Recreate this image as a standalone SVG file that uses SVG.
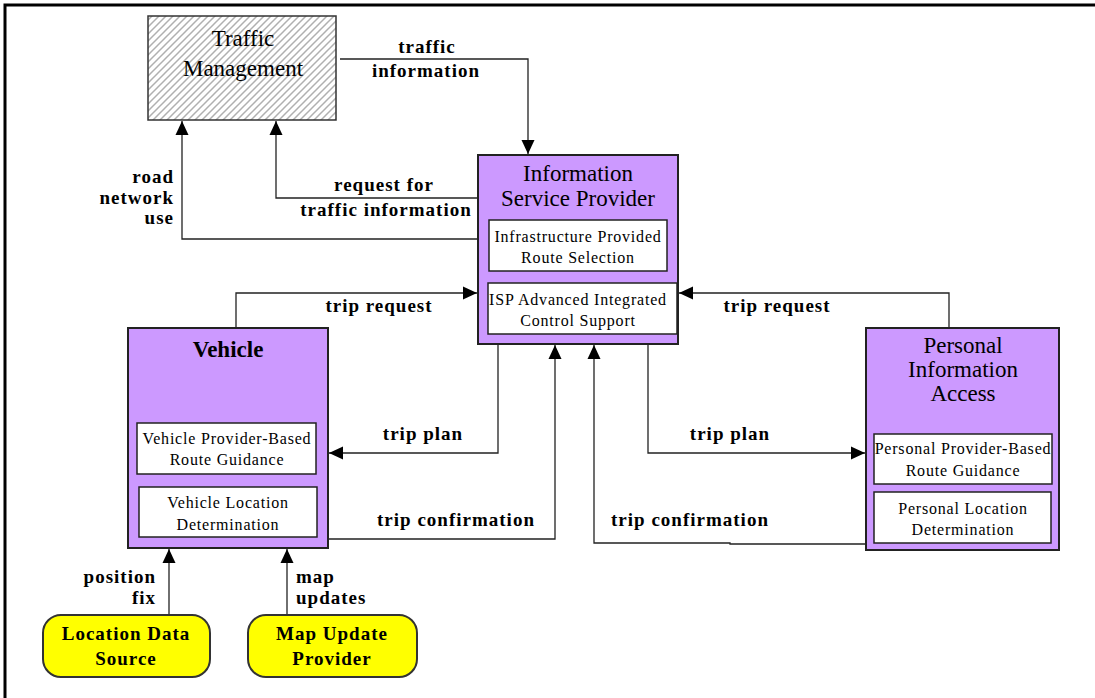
<svg xmlns="http://www.w3.org/2000/svg" width="1095" height="698" viewBox="0 0 1095 698">
<defs>
<style>
.title{font-family:"Liberation Serif","Times New Roman",serif;font-size:23px;fill:#000;text-anchor:middle}
.bold{font-weight:bold}
.inner{font-family:"Liberation Serif","Times New Roman",serif;font-size:16px;letter-spacing:0.8px;fill:#000;text-anchor:middle}
.lbl{font-family:"Liberation Serif","Times New Roman",serif;font-size:19px;font-weight:bold;letter-spacing:1px;fill:#000;text-anchor:middle}
.purple{fill:#cc99ff;stroke:#222;stroke-width:2}
.ibox{fill:#fff;stroke:#222;stroke-width:1.5}
.term{fill:#ffff00;stroke:#333;stroke-width:2}
.conn{fill:none;stroke:#222;stroke-width:1.3;marker-end:url(#arr)}
</style>
<marker id="arr" markerUnits="userSpaceOnUse" markerWidth="15" markerHeight="14" refX="14" refY="7" orient="auto">
<path d="M0,0.5 L14,7 L0,13.5 z" fill="#000"/>
</marker>
<pattern id="hatch" patternUnits="userSpaceOnUse" width="7" height="7">
<rect width="7" height="7" fill="#fff"/>
<path d="M-1,1 L1,-1 M0,7 L7,0 M6,8 L8,6" stroke="#b0b0b0" stroke-width="1.5"/>
</pattern>
</defs>
<rect width="1095" height="698" fill="#fff"/>
<path d="M5,698 V5 H1095" fill="none" stroke="#000" stroke-width="3"/>

<g id="connectors">
<path class="conn" d="M340,59 H528 V154"/>
<path class="conn" d="M478,198 H276 V121"/>
<path class="conn" d="M478,239 H182 V121"/>
<path class="conn" d="M236,328 V293 H477"/>
<path class="conn" d="M949,328 V293 H679"/>
<path class="conn" d="M498,344 V453 H329"/>
<path class="conn" d="M648,344 V453 H865"/>
<path class="conn" d="M328,539 H555 V345"/>
<path class="conn" d="M866,544 H730 V543 H594 V345"/>
<path class="conn" d="M169,615 V549"/>
<path class="conn" d="M287,615 V549"/>
<text class="lbl" x="427" y="53">traffic</text>
<text class="lbl" x="426" y="77">information</text>
<text class="lbl" x="384" y="191">request for</text>
<text class="lbl" x="386" y="216">traffic information</text>
<text class="lbl" x="174" y="183" style="text-anchor:end">road</text>
<text class="lbl" x="174" y="204" style="text-anchor:end">network</text>
<text class="lbl" x="174" y="224" style="text-anchor:end">use</text>
<text class="lbl" x="379" y="312">trip request</text>
<text class="lbl" x="777" y="312">trip request</text>
<text class="lbl" x="423" y="440">trip plan</text>
<text class="lbl" x="730" y="440">trip plan</text>
<text class="lbl" x="456" y="526">trip confirmation</text>
<text class="lbl" x="690" y="526">trip confirmation</text>
<text class="lbl" x="156" y="583" style="text-anchor:end">position</text>
<text class="lbl" x="156" y="604" style="text-anchor:end">fix</text>
<text class="lbl" x="296" y="583" style="text-anchor:start">map</text>
<text class="lbl" x="296" y="604" style="text-anchor:start">updates</text>
</g>

<g id="traffic-management">
<rect x="148" y="16" width="188" height="104" fill="url(#hatch)" stroke="#333" stroke-width="1.5"/>
<text class="title" x="243" y="46">Traffic</text>
<text class="title" x="243" y="76">Management</text>
</g>

<g id="isp">
<rect class="purple" x="478" y="155" width="200" height="189"/>
<text class="title" x="578" y="181">Information</text>
<text class="title" x="578" y="206">Service Provider</text>
<rect class="ibox" x="489" y="220" width="178" height="51"/>
<text class="inner" x="578" y="242">Infrastructure Provided</text>
<text class="inner" x="578" y="263">Route Selection</text>
<rect class="ibox" x="488" y="283" width="189" height="51"/>
<text class="inner" x="578" y="305">ISP Advanced Integrated</text>
<text class="inner" x="578" y="326">Control Support</text>
</g>

<g id="vehicle">
<rect class="purple" x="128" y="328" width="200" height="220"/>
<text class="title bold" x="228" y="357">Vehicle</text>
<rect class="ibox" x="137" y="423" width="179" height="51"/>
<text class="inner" x="227" y="444">Vehicle Provider-Based</text>
<text class="inner" x="227" y="465">Route Guidance</text>
<rect class="ibox" x="139" y="487" width="178" height="50"/>
<text class="inner" x="228" y="508">Vehicle Location</text>
<text class="inner" x="228" y="530">Determination</text>
</g>

<g id="personal-information-access">
<rect class="purple" x="866" y="328" width="193" height="222"/>
<text class="title" x="963" y="353">Personal</text>
<text class="title" x="963" y="377">Information</text>
<text class="title" x="963" y="401">Access</text>
<rect class="ibox" x="874" y="434" width="178" height="50"/>
<text class="inner" x="963" y="454">Personal Provider-Based</text>
<text class="inner" x="963" y="476">Route Guidance</text>
<rect class="ibox" x="874" y="492" width="177" height="51"/>
<text class="inner" x="963" y="514">Personal Location</text>
<text class="inner" x="963" y="535">Determination</text>
</g>

<g id="location-data-source">
<rect class="term" x="43" y="615" width="167" height="62" rx="18" ry="18"/>
<text class="lbl" x="126" y="640">Location Data</text>
<text class="lbl" x="126" y="665">Source</text>
</g>

<g id="map-update-provider">
<rect class="term" x="248" y="615" width="169" height="62" rx="18" ry="18"/>
<text class="lbl" x="332" y="640">Map Update</text>
<text class="lbl" x="332" y="665">Provider</text>
</g>
</svg>
